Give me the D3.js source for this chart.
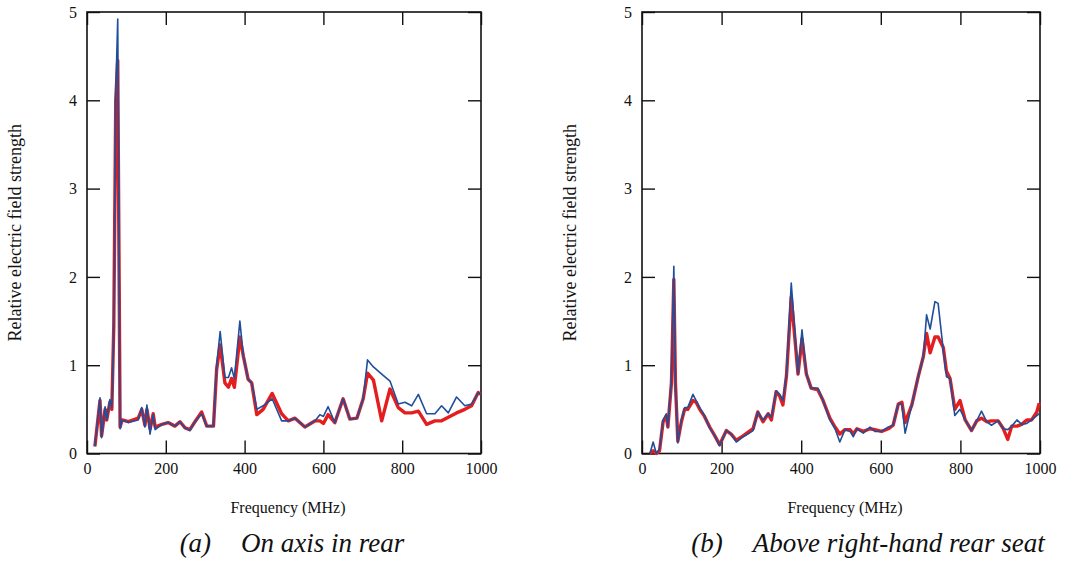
<!DOCTYPE html>
<html>
<head>
<meta charset="utf-8">
<script src="https://cdn.jsdelivr.net/npm/d3@7"></script>
<style>
  body { margin: 0; background: #fff; }
  svg text { font-family: "Liberation Serif", "Times New Roman", serif; fill: #111; }
  .axis path.domain { display: none; }
  .axis line { stroke: #111; stroke-width: 1.4; }
  .axis text { font-size: 16px; }
</style>
</head>
<body>
<div id="chart"></div>
<script>
// panel (a): on axis in rear
var freqA = [20, 33, 37, 46, 50, 58, 63, 68, 73, 78, 84, 89, 105, 130, 139, 147, 152, 160, 168, 173,
  190, 206, 223, 236, 249, 261, 274, 291, 304, 321, 329, 338, 350, 359, 367, 374, 388, 397, 409, 418,
  431, 447, 470, 494, 511, 528, 553, 579, 591, 600, 612, 629, 650, 667, 685, 701, 712, 727, 748, 769,
  790, 807, 824, 841, 862, 883, 900, 917, 938, 959, 976, 993, 1000];
var blueA = [0.08, 0.63, 0.18, 0.53, 0.38, 0.61, 0.52, 1.36, 4.1, 4.92, 0.28, 0.38, 0.35, 0.38, 0.52, 0.3, 0.55, 0.22, 0.44, 0.27,
  0.33, 0.35, 0.31, 0.36, 0.29, 0.26, 0.36, 0.45, 0.31, 0.31, 1.0, 1.38, 0.86, 0.86, 0.97, 0.85, 1.5, 1.1, 0.84, 0.8,
  0.5, 0.54, 0.62, 0.37, 0.37, 0.4, 0.3, 0.37, 0.44, 0.42, 0.53, 0.35, 0.62, 0.39, 0.4, 0.62, 1.06, 0.98, 0.9, 0.82,
  0.56, 0.58, 0.54, 0.67, 0.45, 0.45, 0.54, 0.46, 0.64, 0.54, 0.56, 0.69, 0.67];
var redA = [0.08, 0.6, 0.2, 0.5, 0.38, 0.58, 0.5, 1.45, 4.0, 4.45, 0.3, 0.38, 0.36, 0.4, 0.5, 0.32, 0.5, 0.28, 0.45, 0.3,
  0.33, 0.35, 0.31, 0.36, 0.29, 0.27, 0.36, 0.47, 0.31, 0.31, 0.95, 1.23, 0.8, 0.75, 0.85, 0.75, 1.32, 1.1, 0.84, 0.8,
  0.44, 0.5, 0.68, 0.45, 0.37, 0.4, 0.3, 0.37, 0.37, 0.34, 0.44, 0.35, 0.62, 0.39, 0.4, 0.62, 0.91, 0.83, 0.37, 0.73,
  0.52, 0.46, 0.46, 0.48, 0.33, 0.37, 0.37, 0.41, 0.46, 0.5, 0.54, 0.69, 0.67];

// panel (b): above right-hand rear seat
var freqB = [20, 28, 36, 44, 53, 61, 65, 74, 80, 84, 90, 99, 107, 115, 128, 136, 145, 157, 170, 183,
  195, 212, 224, 237, 254, 266, 279, 291, 304, 317, 325, 337, 346, 354, 363, 375, 392, 402, 413, 425,
  442, 455, 472, 485, 497, 510, 523, 531, 540, 556, 573, 585, 602, 619, 631, 644, 653, 661, 678, 694,
  707, 715, 724, 736, 744, 757, 765, 774, 786, 799, 812, 828, 841, 853, 866, 878, 895, 908, 919, 929,
  942, 954, 967, 979, 992, 998];
var blueB = [0.0, 0.13, 0.0, 0.05, 0.38, 0.45, 0.3, 0.84, 2.12, 0.8, 0.12, 0.38, 0.52, 0.52, 0.67, 0.6, 0.52, 0.43, 0.29, 0.2,
  0.09, 0.26, 0.22, 0.13, 0.19, 0.22, 0.26, 0.47, 0.38, 0.45, 0.41, 0.71, 0.67, 0.6, 0.9, 1.93, 0.9, 1.4, 0.9, 0.74,
  0.74, 0.6, 0.38, 0.28, 0.13, 0.27, 0.25, 0.19, 0.28, 0.23, 0.3, 0.25, 0.25, 0.3, 0.32, 0.56, 0.56, 0.23, 0.55, 0.87,
  1.1, 1.57, 1.41, 1.72, 1.7, 1.17, 0.87, 0.85, 0.43, 0.5, 0.38, 0.26, 0.37, 0.48, 0.36, 0.32, 0.37, 0.28, 0.27, 0.31,
  0.38, 0.33, 0.34, 0.38, 0.43, 0.45];
var redB = [0.0, 0.03, 0.0, 0.03, 0.36, 0.42, 0.3, 0.8, 1.97, 0.8, 0.14, 0.36, 0.5, 0.5, 0.6, 0.58, 0.5, 0.42, 0.3, 0.2,
  0.1, 0.26, 0.22, 0.15, 0.2, 0.24, 0.28, 0.47, 0.36, 0.45, 0.38, 0.7, 0.65, 0.55, 0.88, 1.77, 0.9, 1.3, 0.9, 0.74,
  0.72, 0.6, 0.4, 0.3, 0.22, 0.27, 0.27, 0.22, 0.28, 0.25, 0.28, 0.27, 0.25, 0.28, 0.32, 0.56, 0.58, 0.35, 0.55, 0.87,
  1.1, 1.36, 1.14, 1.32, 1.32, 1.2, 0.93, 0.85, 0.5, 0.6, 0.38, 0.26, 0.37, 0.4, 0.36, 0.37, 0.37, 0.28, 0.16, 0.31,
  0.31, 0.33, 0.38, 0.38, 0.47, 0.57];

var xTicks = [0, 200, 400, 600, 800, 1000];
var yTicks = [0, 1, 2, 3, 4, 5];
var yTitle = "Relative electric field strength";
var xTitle = "Frequency (MHz)";

var width = 1069, height = 562;
var plotTop = 12, plotBottom = 453.5;

var svg = d3.select("#chart").append("svg")
    .attr("width", width)
    .attr("height", height);

function drawPanel(left, right, freq, blue, red, tag, caption, capX) {
  var x = d3.scaleLinear().domain([0, 1000]).range([left, right]);
  var y = d3.scaleLinear().domain([0, 5]).range([plotBottom, plotTop]);
  var g = svg.append("g");

  // ticks pointing inward on all four sides
  g.append("g").attr("class", "axis")
      .attr("transform", "translate(0," + plotBottom + ")")
      .call(d3.axisBottom(x).tickValues(xTicks).tickSize(-13).tickSizeOuter(0)
          .tickPadding(9).tickFormat(d3.format("d")));
  g.append("g").attr("class", "axis")
      .attr("transform", "translate(0," + plotTop + ")")
      .call(d3.axisTop(x).tickValues(xTicks).tickSize(-13).tickSizeOuter(0).tickFormat(""));
  g.append("g").attr("class", "axis")
      .attr("transform", "translate(" + left + ",0)")
      .call(d3.axisLeft(y).tickValues(yTicks).tickSize(-13).tickSizeOuter(0)
          .tickPadding(10).tickFormat(d3.format("d")));
  g.append("g").attr("class", "axis")
      .attr("transform", "translate(" + right + ",0)")
      .call(d3.axisRight(y).tickValues(yTicks).tickSize(-13).tickSizeOuter(0).tickFormat(""));

  g.append("rect")
      .attr("x", left).attr("y", plotTop)
      .attr("width", right - left).attr("height", plotBottom - plotTop)
      .attr("fill", "none").attr("stroke", "#111").attr("stroke-width", 1.6);

  var line = d3.line()
      .x(function(d) { return x(d[0]); })
      .y(function(d) { return y(d[1]); });

  g.append("path")
      .datum(freq.map(function(f, i) { return [f, red[i]]; }))
      .attr("d", line)
      .attr("fill", "none").attr("stroke", "#e41e1e").attr("stroke-width", 3.4)
      .attr("stroke-linejoin", "round");
  g.append("path")
      .datum(freq.map(function(f, i) { return [f, blue[i]]; }))
      .attr("d", line)
      .attr("fill", "none").attr("stroke", "#1f4f9c").attr("stroke-width", 1.6)
      .attr("stroke-linejoin", "round");

  var cx = (left + right) / 2;
  g.append("text")
      .attr("x", cx + 4).attr("y", 513)
      .attr("text-anchor", "middle")
      .style("font-size", "16px")
      .text(xTitle);

  g.append("text")
      .attr("transform", "translate(" + (left - 66) + "," + ((plotTop + plotBottom) / 2) + ") rotate(-90)")
      .attr("text-anchor", "middle")
      .style("font-size", "18px")
      .text(yTitle);

  var cap = g.append("text")
      .attr("x", capX).attr("y", 552)
      .attr("text-anchor", "middle")
      .style("font-size", "27px")
      .style("font-style", "italic");
  cap.append("tspan").text(tag);
  cap.append("tspan").attr("dx", 30).text(caption);
}

drawPanel(87, 481, freqA, blueA, redA, "(a)", "On axis in rear", 292);
drawPanel(642, 1040, freqB, blueB, redB, "(b)", "Above right-hand rear seat", 868);
</script>
</body>
</html>
